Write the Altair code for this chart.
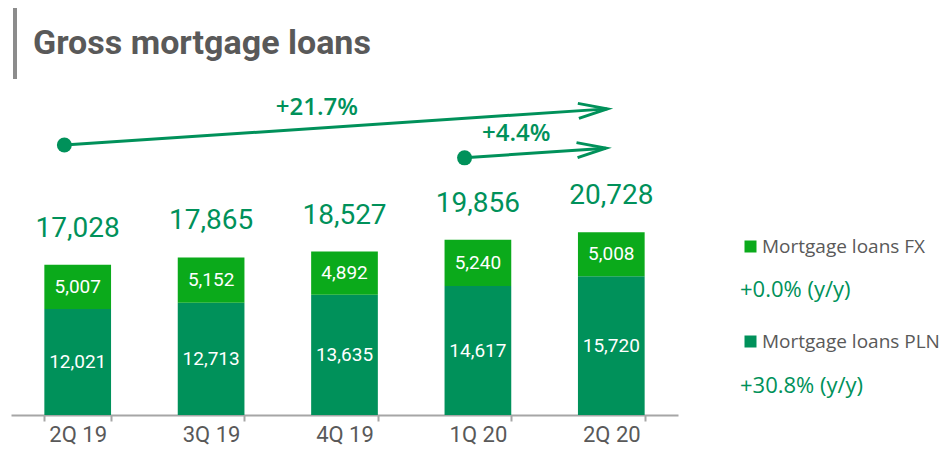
import altair as alt
import pandas as pd

# ---- data ----
chart_title = ["Gross mortgage loans"]
quarters = ["2Q 19", "3Q 19", "4Q 19", "1Q 20", "2Q 20"]
pln_values = [12021, 12713, 13635, 14617, 15720]
fx_values = [5007, 5152, 4892, 5240, 5008]
totals = [17028, 17865, 18527, 19856, 20728]
series = ["Mortgage loans FX", "Mortgage loans PLN"]
series_colors = ["#0BAA1B", "#00915A"]
growth_yy = ["+0.0% (y/y)", "+30.8% (y/y)"]

# growth arrows (x in quarter-index units, y in value units)
arrow_labels = ["+21.7%", "+4.4%"]
arrow_x0 = [-0.10, 2.90]
arrow_x1 = [3.97, 3.96]
arrow_y0 = [30600, 29150]
arrow_y1 = [34700, 30250]

GREEN = "#00915A"
GRAY = "#595959"
NUM_FONT = "Roboto"
TXT_FONT = "Open Sans"

bars_df = pd.DataFrame({
    "quarter": quarters * 2,
    "series": [series[1]] * len(quarters) + [series[0]] * len(quarters),
    "value": pln_values + fx_values,
    "order": [0] * len(quarters) + [1] * len(quarters),
})
tot_df = pd.DataFrame({"quarter": quarters, "total": totals})
arr_df = pd.DataFrame({"label": arrow_labels, "x0": arrow_x0, "x1": arrow_x1,
                       "y0": arrow_y0, "y1": arrow_y1})
leg_df = pd.DataFrame({"series": series, "growth": growth_yy})
title_df = pd.DataFrame({"title": chart_title})

y_scale = alt.Scale(domain=[0, 38200], nice=False, zero=True)
x_enc = alt.X(
    "quarter:N", sort=quarters,
    scale=alt.Scale(paddingInner=0.5, paddingOuter=0.25),
    axis=alt.Axis(title=None, labelAngle=0, tickBand="extent", grid=False,
                  domainColor="#A6A6A6", domainWidth=2, tickColor="#A6A6A6",
                  tickWidth=2, tickSize=6, labelFont=NUM_FONT, labelFontSize=22,
                  labelColor=GRAY, labelPadding=3),
)

bars = alt.Chart(bars_df).mark_bar().encode(
    x=x_enc,
    y=alt.Y("value:Q", stack="zero", scale=y_scale, axis=None),
    color=alt.Color("series:N", scale=alt.Scale(domain=series, range=series_colors),
                    legend=alt.Legend(orient="none", legendX=730, legendY=159, title=None,
                                      symbolType="square", symbolSize=144,
                                      labelFont=TXT_FONT, labelFontSize=19,
                                      labelColor=GRAY, rowPadding=75, labelOffset=2,
                                      labelLimit=400, symbolStrokeWidth=0)),
    order=alt.Order("order:Q", sort="ascending"),
)

seg_labels = alt.Chart(bars_df).transform_stack(
    stack="value", groupby=["quarter"], as_=["y0", "y1"],
    sort=[alt.SortField("order", order="ascending")],
).transform_calculate(mid="(datum.y0 + datum.y1) / 2").mark_text(
    color="white", font=NUM_FONT, fontSize=19, baseline="middle"
).encode(
    x=x_enc,
    y=alt.Y("mid:Q", scale=y_scale, axis=None),
    text=alt.Text("value:Q", format=","),
)

tot_labels = alt.Chart(tot_df).mark_text(
    color=GREEN, font=NUM_FONT, fontSize=28, baseline="alphabetic", dy=-28
).encode(
    x=x_enc,
    y=alt.Y("total:Q", scale=y_scale, axis=None),
    text=alt.Text("total:Q", format=","),
)

main = alt.layer(bars, seg_labels, tot_labels)

xq = alt.Scale(domain=[-0.5, 4.5], nice=False, zero=False)
a_line = alt.Chart(arr_df).mark_rule(color=GREEN, strokeWidth=3).encode(
    x=alt.X("x0:Q", scale=xq, axis=None), x2="x1:Q",
    y=alt.Y("y0:Q", scale=y_scale, axis=None), y2="y1:Q",
)
a_dot = alt.Chart(arr_df).mark_circle(color=GREEN, size=225, opacity=1).encode(
    x=alt.X("x0:Q", scale=xq, axis=None),
    y=alt.Y("y0:Q", scale=y_scale, axis=None),
)
a_head = alt.Chart(arr_df).mark_point(
    shape="M-1,-0.26L0,0L-1,0.26", size=3364, filled=False, strokeWidth=3,
    angle=356, color=GREEN, opacity=1,
).encode(
    x=alt.X("x1:Q", scale=xq, axis=None),
    y=alt.Y("y1:Q", scale=y_scale, axis=None),
)
a_text = alt.Chart(arr_df).transform_calculate(
    xm="(datum.x0 + datum.x1) / 2", ym="(datum.y0 + datum.y1) / 2"
).mark_text(
    color=GREEN, font=TXT_FONT, fontSize=24, fontWeight=600,
    baseline="alphabetic", dx=-19, dy=-12,
).encode(
    x=alt.X("xm:Q", scale=xq, axis=None),
    y=alt.Y("ym:Q", scale=y_scale, axis=None),
    text="label:N",
)
annot = alt.layer(a_line, a_dot, a_head, a_text)

growth_layers = [
    alt.Chart(leg_df).transform_filter(alt.datum.series == s).mark_text(
        color=GREEN, font=TXT_FONT, fontSize=22, align="left", baseline="alphabetic"
    ).encode(x=alt.value(729), y=alt.value(yv), text="growth:N")
    for s, yv in zip(series, [219, 315])
]

title_bar = alt.Chart(title_df).mark_rule(color="#8C8C8C", strokeWidth=4).encode(
    x=alt.value(4), y=alt.value(-70), y2=alt.value(1)
)
title_text = alt.Chart(title_df).mark_text(
    font=NUM_FONT, fontSize=34, fontWeight="bold", color=GRAY,
    align="left", baseline="alphabetic",
).encode(x=alt.value(22), y=alt.value(-24), text="title:N")

chart = alt.layer(main, annot, title_bar, title_text, *growth_layers).resolve_scale(
    x="independent"
).properties(
    width=667, height=337,
    background="white",
    autosize=alt.AutoSizeParams(type="none"),
    padding={"left": 3, "top": 70, "right": 265, "bottom": 34},
).configure_view(strokeWidth=0)

chart.save("out.html", embed_options={"renderer": "svg", "actions": False})
